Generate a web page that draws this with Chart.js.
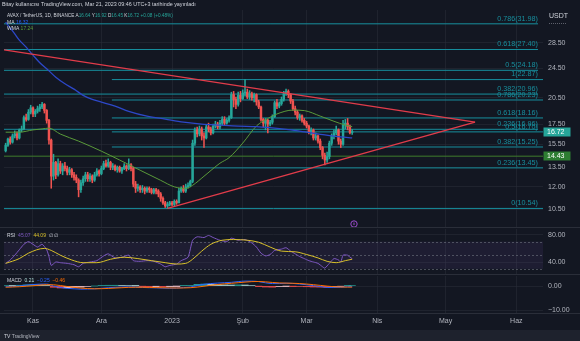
<!DOCTYPE html>
<html>
<head>
<meta charset="utf-8">
<title>AVAX / TetherUS 1D</title>
<script src="https://cdn.jsdelivr.net/npm/chart.js@4.4.1/dist/chart.umd.min.js"></script>
<style>
  html, body { margin: 0; padding: 0; background: #131722; }
  #page { position: relative; width: 580px; height: 341px; overflow: hidden; background: #131722; }
  canvas { position: absolute; left: 0; }
  #mainChart { top: 0; }
  #rsiChart { top: 228px; }
  #macdChart { top: 275px; }
</style>
</head>
<body>
<div id="page">
  <canvas id="mainChart" width="580" height="228"></canvas>
  <canvas id="rsiChart" width="580" height="47"></canvas>
  <canvas id="macdChart" width="580" height="66"></canvas>
</div>
<script>
// ---------------- data (days counted from 1 Nov 2022) ----------------
const firstDay = -12; // 20 Oct 2022

const candleOpen = [
  14.9, 15.4, 16.0, 15.7, 16.3, 16.5, 16.1, 16.9, 17.0, 18.2, 18.0, 18.8,
  19.3, 18.6, 18.9, 19.2, 19.4, 19.7, 19.0, 17.9, 15.9, 12.8, 13.9, 12.9, 13.8, 13.2,
  13.6, 13.4, 13.1, 13.3, 12.9, 12.7, 12.5, 11.8, 12.3, 12.6, 12.9, 12.6, 12.8, 12.5, 12.9, 13.2,
  13.0, 13.4, 13.8, 13.6, 13.9, 13.5, 13.6, 13.3, 13.5, 13.2, 13.4, 13.6, 13.4, 13.7,
  13.4, 12.2, 11.9, 12.0, 11.8, 11.9, 11.7, 11.9, 11.8, 11.6, 11.8, 11.7, 11.5, 11.2, 10.9, 10.7,
  10.8, 10.9, 10.8, 11.0, 10.9, 11.7, 11.9, 11.7, 12.0, 12.1,
  12.4, 15.6, 16.9, 16.5, 17.0, 16.3, 16.1, 17.2, 17.0, 16.6, 17.3, 17.5, 17.2, 17.6, 18.0, 17.6, 17.9,
  18.2, 20.9, 20.3, 19.7, 20.8, 20.4, 21.1, 21.2, 20.6, 21.0, 20.5, 20.9, 20.0, 19.4, 18.0, 17.6, 17.9,
  17.5, 17.7, 18.3, 19.9, 19.5, 19.8, 20.3, 21.0, 21.3, 20.9, 20.1, 19.2, 18.8, 18.2, 18.4, 17.9, 17.6,
  17.3, 16.7, 16.9, 16.1, 16.3, 15.8, 15.2, 14.5, 14.1, 14.4, 15.6, 16.3, 16.6, 16.9, 15.8, 15.5,
  17.4, 17.6, 17.2, 16.64
];
const candleHigh = [
  15.6, 16.1, 16.2, 16.5, 16.8, 16.7, 17.0, 17.3, 18.4, 18.6, 19.1, 19.6,
  19.4, 19.1, 19.5, 19.7, 19.95, 19.8, 19.1, 18.0, 16.0, 14.6, 14.0, 14.2, 14.0, 13.8,
  13.9, 13.6, 13.5, 13.4, 13.1, 12.9, 12.6, 12.5, 12.8, 13.1, 13.1, 13.0, 12.9, 13.1, 13.4, 13.3,
  13.6, 14.0, 14.1, 14.2, 14.0, 13.8, 13.7, 13.6, 13.6, 13.5, 13.8, 13.7, 14.2, 13.8,
  13.5, 12.4, 12.2, 12.1, 12.1, 12.0, 12.0, 12.0, 11.9, 11.9, 11.9, 11.8, 11.6, 11.3, 11.0, 10.95,
  11.0, 11.0, 11.1, 11.1, 11.9, 12.0, 12.1, 12.2, 12.3, 12.5,
  15.9, 17.1, 17.2, 17.3, 17.2, 16.6, 17.4, 17.6, 17.2, 17.5, 17.8, 17.7, 17.9, 18.3, 18.3, 18.1, 18.4,
  21.2, 21.3, 20.6, 21.2, 21.3, 21.5, 22.87, 21.6, 21.4, 21.2, 21.1, 21.0, 20.2, 19.5, 18.1, 18.1, 18.0,
  17.9, 18.5, 20.1, 20.3, 20.0, 20.6, 21.3, 21.6, 21.5, 21.0, 20.3, 19.5, 19.0, 18.6, 18.5, 18.1, 17.8,
  17.4, 17.1, 17.0, 16.6, 16.4, 16.0, 15.3, 14.7, 14.8, 15.8, 16.5, 16.9, 17.3, 17.0, 16.0, 17.9,
  18.0, 18.1, 17.4, 16.92
];
const candleLow = [
  14.8, 15.3, 15.5, 15.6, 16.1, 15.9, 16.0, 16.7, 16.9, 17.8, 17.9, 18.6,
  18.3, 18.3, 18.7, 18.9, 19.2, 18.7, 17.6, 15.5, 11.9, 12.5, 12.6, 12.8, 13.0, 12.9,
  13.2, 12.9, 12.9, 12.7, 12.5, 12.3, 11.3, 11.6, 12.1, 12.4, 12.4, 12.4, 12.3, 12.4, 12.8, 12.8,
  12.9, 13.3, 13.5, 13.5, 13.3, 13.3, 13.2, 13.1, 13.1, 13.0, 13.3, 13.2, 13.3, 13.2,
  12.0, 11.6, 11.7, 11.6, 11.6, 11.5, 11.6, 11.6, 11.5, 11.5, 11.5, 11.3, 11.0, 10.8, 10.6, 10.54,
  10.7, 10.7, 10.7, 10.8, 10.9, 11.6, 11.6, 11.6, 11.9, 12.0,
  12.3, 15.4, 16.2, 16.3, 15.9, 15.2, 16.0, 16.7, 16.4, 16.5, 17.1, 17.0, 17.0, 17.4, 17.4, 17.5, 17.7,
  18.1, 19.4, 19.2, 19.5, 20.0, 20.3, 20.7, 20.4, 20.3, 20.2, 20.0, 19.6, 19.2, 17.8, 17.2, 16.9, 16.6,
  17.3, 17.5, 18.2, 19.2, 19.3, 19.6, 20.1, 20.8, 20.5, 19.8, 19.0, 18.5, 18.0, 17.9, 17.7, 17.4, 17.1,
  16.5, 16.4, 15.9, 15.9, 15.6, 15.0, 14.2, 13.7, 13.9, 14.2, 15.4, 16.0, 16.4, 15.5, 15.2, 15.4,
  17.0, 16.9, 16.5, 16.45
];
const candleClose = [
  15.4, 16.0, 15.7, 16.3, 16.5, 16.1, 16.9, 17.0, 18.2, 18.0, 18.8, 19.3,
  18.6, 18.9, 19.2, 19.4, 19.7, 19.0, 17.9, 15.9, 12.8, 13.9, 12.9, 13.8, 13.2, 13.6,
  13.4, 13.1, 13.3, 12.9, 12.7, 12.5, 11.8, 12.3, 12.6, 12.9, 12.6, 12.8, 12.5, 12.9, 13.2, 13.0,
  13.4, 13.8, 13.6, 13.9, 13.5, 13.6, 13.3, 13.5, 13.2, 13.4, 13.6, 13.4, 13.7, 13.4,
  12.2, 11.9, 12.0, 11.8, 11.9, 11.7, 11.9, 11.8, 11.6, 11.8, 11.7, 11.5, 11.2, 10.9, 10.7, 10.8,
  10.9, 10.8, 11.0, 10.9, 11.7, 11.9, 11.7, 12.0, 12.1, 12.4,
  15.6, 16.9, 16.5, 17.0, 16.3, 16.1, 17.2, 17.0, 16.6, 17.3, 17.5, 17.2, 17.6, 18.0, 17.6, 17.9, 18.2,
  20.9, 20.3, 19.7, 20.8, 20.4, 21.1, 21.2, 20.6, 21.0, 20.5, 20.9, 20.0, 19.4, 18.0, 17.6, 17.9, 17.5,
  17.7, 18.3, 19.9, 19.5, 19.8, 20.3, 21.0, 21.3, 20.9, 20.1, 19.2, 18.8, 18.2, 18.4, 17.9, 17.6, 17.3,
  16.7, 16.9, 16.1, 16.3, 15.8, 15.2, 14.5, 14.1, 14.4, 15.6, 16.3, 16.6, 16.9, 15.8, 15.5, 17.4,
  17.6, 17.2, 16.64, 16.72
];

// moving averages
const maDays = [-12, -10, -8, -6, -3, 0, 3, 7, 10, 14, 18, 22, 26, 30, 36, 42, 50, 58, 66, 74, 82, 90, 98, 104, 112, 120, 128, 135, 140];
const maValues = [32.3, 31.2, 30.1, 29.0, 27.8, 26.5, 25.3, 24.1, 23.2, 22.3, 21.6, 20.8, 20.3, 19.98, 19.5, 18.9, 18.36, 18.03, 17.71, 17.5, 17.39, 17.29, 17.24, 17.13, 16.93, 16.67, 16.4, 16.2, 16.1];
const wmaDays = [-12, -6, 0, 4, 7, 12, 20, 30, 38, 47, 56, 62, 67, 70, 75, 82, 86, 92, 98, 103, 107, 114, 119, 126, 132, 137, 140];
const wmaValues = [16.67, 16.67, 16.9, 17.0, 17.08, 16.48, 15.8, 14.87, 14.1, 13.26, 12.48, 12.0, 11.89, 12.11, 12.79, 13.83, 14.3, 15.61, 17.3, 18.1, 18.6, 19.04, 18.98, 18.36, 17.8, 17.39, 17.24];

// fibonacci retracements
const fibALevels = ['0.236', '0.382', '0.5', '0.618', '0.786'];
const fibAPrices = [16.96, 20.96, 24.18, 27.40, 31.98];
const fibBLevels = ['0', '0.236', '0.382', '0.5', '0.618', '0.786', '1'];
const fibBPrices = [10.54, 13.45, 15.25, 16.70, 18.16, 20.23, 22.87];
const fibBStartDay = 34.6;
const fibAEndDay = 221.5;

// triangle trend lines [day, price]
const upperTrend = [[-12.7, 27.35], [193.9, 17.71]];
const lowerTrend = [[59, 10.54], [193.9, 17.71]];
const supportPrice = 14.43;
const lastPrice = 16.72;

// RSI
const rsiDays = [-12, -10, -8, -6, -4, -2, 0, 2, 4, 6, 7, 8, 10, 12, 15, 18, 20, 22, 25, 28, 31, 33, 36, 39, 42, 44, 47, 50, 53, 56, 58, 60, 63, 65, 68, 70, 72, 75, 77, 79, 82, 85, 87, 90, 93, 96, 98, 100, 102, 104, 106, 109, 111, 113, 115, 117, 119, 121, 123, 125, 127, 128, 130, 132, 134, 135, 136, 138, 139, 140];
const rsiValues = [38, 43, 50, 58, 66, 70, 66, 62, 66, 58, 48, 35, 40, 39, 38, 36, 33, 38, 40, 42, 49, 52, 46, 47, 50, 42, 41, 42, 41, 37, 33, 35, 37, 42, 47, 72, 77, 76, 79, 76, 72, 70, 75, 72, 73, 68, 62, 53, 49, 51, 57, 59, 61, 56, 52, 48, 45, 42, 40, 38, 33, 31, 38, 45, 43, 40, 50, 50, 47, 45.07];
const rsiMaDays = [-12, -6, -2, 5, 8, 12, 17, 22, 28, 34, 40, 46, 52, 58, 63, 67, 70, 74, 78, 83, 88, 94, 99, 104, 109, 115, 120, 125, 129, 133, 137, 140];
const rsiMaValues = [38, 45, 53, 60, 57, 50, 43, 39, 39, 44, 47, 45, 42, 39, 37, 38, 44, 56, 66, 72, 73, 72, 69, 62, 56, 55, 51, 46, 41, 39, 42, 44.09];

// MACD
const macdDays = [-12, -9, -6, -3, 0, 3, 6, 9, 12, 15, 18, 21, 24, 27, 30, 33, 36, 39, 42, 45, 48, 51, 54, 57, 60, 63, 66, 69, 72, 75, 78, 81, 84, 87, 90, 93, 96, 99, 102, 105, 108, 111, 114, 117, 120, 123, 126, 129, 132, 135, 138, 140];
const macdLine = [-0.3, -0.25, 0.0, 0.35, 0.6, 0.75, 0.8, 0.0, -0.6, -0.95, -1.15, -1.3, -1.25, -1.15, -0.95, -0.7, -0.55, -0.45, -0.35, -0.45, -0.6, -0.7, -0.75, -0.85, -0.9, -0.85, -0.65, -0.45, 0.2, 0.7, 1.0, 1.2, 1.35, 1.5, 1.8, 2.0, 2.0, 1.8, 1.3, 1.0, 1.0, 1.15, 1.05, 0.8, 0.5, 0.15, -0.2, -0.6, -0.6, -0.5, -0.3, -0.25];
const macdSignal = [-0.5, -0.4, -0.3, -0.1, 0.1, 0.35, 0.55, 0.5, 0.2, -0.2, -0.55, -0.85, -1.05, -1.15, -1.1, -1.0, -0.85, -0.7, -0.55, -0.5, -0.52, -0.58, -0.65, -0.72, -0.8, -0.83, -0.8, -0.7, -0.45, -0.1, 0.3, 0.6, 0.9, 1.1, 1.35, 1.6, 1.8, 1.85, 1.7, 1.45, 1.25, 1.18, 1.12, 1.0, 0.8, 0.55, 0.25, -0.05, -0.3, -0.42, -0.45, -0.46];
const macdHist = [0.2, 0.15, 0.3, 0.45, 0.5, 0.4, 0.25, -0.5, -0.8, -0.75, -0.6, -0.45, -0.2, 0.0, 0.15, 0.3, 0.3, 0.25, 0.2, 0.05, -0.08, -0.12, -0.1, -0.13, -0.1, -0.02, 0.15, 0.25, 0.65, 0.8, 0.7, 0.6, 0.45, 0.4, 0.45, 0.4, 0.2, -0.05, -0.4, -0.45, -0.25, -0.03, -0.07, -0.2, -0.3, -0.4, -0.45, -0.55, -0.3, -0.08, 0.15, 0.21];

// axis ticks
const priceTicks = [10.5, 12, 13.5, 15.5, 17.5, 20.5, 24.5, 28.5];
const rsiTicks = [40, 80];
const macdTicks = [-10, 0];
const monthTickDays = [0, 30, 61, 92, 120, 151, 181, 212];
const monthTickLabels = ['Kas', 'Ara', '2023', 'Şub', 'Mar', 'Nis', 'May', 'Haz'];

// ---------------- styling ----------------
const FONT = '"Liberation Sans", Arial, sans-serif';
const TEXT = '#d1d4dc';
const AXIS_TEXT = '#b2b5be';
const GRID = 'rgba(42,46,57,0.55)';
const SEPARATOR = '#2a2e39';
const UP = '#26a69a';
const DOWN = '#ef5350';
const FIB = '#178f9e';
const X_MIN = -12.72;
const X_MAX = 223.7;
const AXIS_WIDTH = 37;

Chart.defaults.font.family = FONT;
Chart.defaults.font.size = 7;
Chart.defaults.color = AXIS_TEXT;
Chart.defaults.animation = false;
Chart.defaults.plugins.legend.display = false;
Chart.defaults.plugins.tooltip.enabled = false;
Chart.defaults.elements.point.radius = 0;

const fmt = v => (v < 0 ? '\u2212' + Math.abs(v).toFixed(2) : v.toFixed(2));
const zip = (xs, ys) => xs.map((x, i) => ({ x: x, y: ys[i] }));

function timeAxis(showLabels) {
    return {
        type: 'linear',
        min: X_MIN,
        max: X_MAX,
        offset: false,
        grid: { color: GRID, drawTicks: false, offset: false },
        border: { display: false },
        ticks: {
            display: showLabels,
            padding: 4,
            maxRotation: 0,
            autoSkip: false,
            color: AXIS_TEXT,
            callback: (value, index) => monthTickLabels[index]
        },
        afterBuildTicks: s => { s.ticks = monthTickDays.map(v => ({ value: v })); },
        afterFit: s => { s.height = showLabels ? 17 : 0; s.paddingLeft = 0; s.paddingRight = 0; }
    };
}

function valueAxis(extra, tickValues) {
    return Object.assign({
        position: 'right',
        grid: { color: GRID, drawTicks: false },
        border: { display: false },
        ticks: { padding: 5, color: AXIS_TEXT, callback: v => fmt(v) },
        afterBuildTicks: s => { s.ticks = tickValues.map(v => ({ value: v })); },
        afterFit: s => { s.width = AXIS_WIDTH; s.paddingTop = 0; s.paddingBottom = 0; }
    }, extra);
}

function drawSegments(ctx, x, y, segs, size) {
    ctx.save();
    ctx.font = size + 'px ' + FONT;
    ctx.textBaseline = 'middle';
    ctx.textAlign = 'left';
    segs.forEach(([t, c]) => {
        ctx.fillStyle = c;
        ctx.fillText(t, x, y);
        x += ctx.measureText(t).width;
    });
    ctx.restore();
}

function separator(ctx, y) {
    ctx.save();
    ctx.strokeStyle = SEPARATOR;
    ctx.lineWidth = 1;
    ctx.beginPath();
    ctx.moveTo(0, y);
    ctx.lineTo(580, y);
    ctx.stroke();
    ctx.restore();
}

// ---------------- main price pane ----------------
const candleDays = candleClose.map((_, i) => firstDay + i);
const candleColors = candleClose.map((c, i) => (c >= candleOpen[i] ? UP : DOWN));

function hLine(startDay, endDay, price, color, width, order) {
    return {
        type: 'line',
        data: [{ x: startDay, y: price }, { x: endDay, y: price }],
        borderColor: color,
        borderWidth: width,
        pointRadius: 0,
        order: order
    };
}

const fibDatasets = [
    ...fibAPrices.map(p => hLine(X_MIN, fibAEndDay, p, FIB, 1, 30)),
    ...fibBPrices.map((p, i) => hLine(i === 0 ? X_MIN : fibBStartDay, X_MAX, p, FIB, 1, 30))
];

const mainOverlay = {
    id: 'mainOverlay',
    afterDraw(chart) {
        const { ctx, chartArea, scales: { x, y } } = chart;
        ctx.save();

        // fib labels
        ctx.font = '7.2px ' + FONT;
        ctx.fillStyle = FIB;
        ctx.textAlign = 'right';
        ctx.textBaseline = 'bottom';
        const lx = x.getPixelForValue(fibAEndDay);
        fibAPrices.forEach((p, i) => ctx.fillText(fibALevels[i] + '(' + p.toFixed(2) + ')', lx, y.getPixelForValue(p) - 1.5));
        fibBPrices.forEach((p, i) => ctx.fillText(fibBLevels[i] + '(' + p.toFixed(2) + ')', lx, y.getPixelForValue(p) - 1.5));

        // price axis boxes
        [[lastPrice, UP], [supportPrice, '#2e7d32']].forEach(([p, bg]) => {
            const py = Math.round(y.getPixelForValue(p));
            ctx.fillStyle = bg;
            ctx.fillRect(chartArea.right + 0.5, py - 4.5, 27, 9);
            ctx.fillStyle = '#ffffff';
            ctx.font = '7px ' + FONT;
            ctx.textAlign = 'left';
            ctx.textBaseline = 'middle';
            ctx.fillText(p.toFixed(2), chartArea.right + 4, py + 0.5);
        });

        // currency label
        ctx.fillStyle = TEXT;
        ctx.font = '7px ' + FONT;
        ctx.textAlign = 'left';
        ctx.textBaseline = 'middle';
        ctx.fillText('USDT', 549, 16);
        ctx.strokeStyle = '#5d606b';
        ctx.setLineDash([1, 1]);
        ctx.beginPath();
        ctx.moveTo(549, 23.5);
        ctx.lineTo(566, 23.5);
        ctx.stroke();
        ctx.setLineDash([]);

        // idea marker
        const mx = x.getPixelForValue(140.8);
        const my = chartArea.bottom - 4;
        ctx.strokeStyle = '#9c4dcc';
        ctx.lineWidth = 1;
        ctx.beginPath();
        ctx.arc(mx, my, 3.2, 0, Math.PI * 2);
        ctx.stroke();
        ctx.fillStyle = '#9c4dcc';
        ctx.fillRect(mx - 0.5, my - 1.5, 1, 2.5);
        ctx.restore();

        // header
        drawSegments(ctx, 2, 5, [['Bitay kullanıcısı TradingView.com, Mar 21, 2023 09:46 UTC+3 tarihinde yayınladı', TEXT]], 5.4);
        drawSegments(ctx, 7, 15.5, [
            ['AVAX / TetherUS, 1D, BINANCE ', TEXT],
            ['A', TEXT], ['16.64 ', UP], ['Y', TEXT], ['16.92 ', UP],
            ['D', TEXT], ['16.45 ', UP], ['K', TEXT], ['16.72 ', UP], ['+0.08 (+0.48%)', UP]
        ], 4.7);
        drawSegments(ctx, 7, 22.3, [['MA ', TEXT], ['16.32', '#2962ff']], 5);
        drawSegments(ctx, 7, 29, [['WMA ', TEXT], ['17.24', '#5c9e3c']], 5);

        separator(ctx, chartArea.bottom - 0.5);
    }
};

new Chart(document.getElementById('mainChart'), {
    type: 'bar',
    data: {
        datasets: [
            ...fibDatasets,
            hLine(X_MIN, X_MAX, supportPrice, '#3f7d2c', 1, 25),
            {
                type: 'bar',
                data: candleDays.map((d, i) => ({ x: d, y: [candleLow[i], candleHigh[i]] })),
                backgroundColor: candleColors,
                barThickness: 0.9,
                grouped: false,
                order: 12
            },
            {
                type: 'bar',
                data: candleDays.map((d, i) => ({ x: d, y: [candleOpen[i], candleClose[i]] })),
                backgroundColor: candleColors,
                barThickness: 1.8,
                minBarLength: 1,
                grouped: false,
                order: 11
            },
            {
                type: 'line',
                data: zip(maDays, maValues),
                borderColor: '#2d48c8',
                borderWidth: 1.3,
                cubicInterpolationMode: 'monotone',
                order: 5
            },
            {
                type: 'line',
                data: zip(wmaDays, wmaValues),
                borderColor: '#5a9a3a',
                borderWidth: 1,
                cubicInterpolationMode: 'monotone',
                order: 5
            },
            {
                type: 'line',
                data: upperTrend.map(([d, p]) => ({ x: d, y: p })),
                borderColor: '#e23c4a',
                borderWidth: 1.3,
                order: 1
            },
            {
                type: 'line',
                data: lowerTrend.map(([d, p]) => ({ x: d, y: p })),
                borderColor: '#e23c4a',
                borderWidth: 1.3,
                order: 1
            }
        ]
    },
    options: {
        responsive: false,
        events: [],
        layout: { padding: { left: 4, top: 10, right: 0, bottom: 0 } },
        scales: {
            x: timeAxis(false),
            y: valueAxis({ type: 'logarithmic', min: 9.37, max: 34.75, bounds: 'data' }, priceTicks)
        }
    },
    plugins: [mainOverlay]
});

// ---------------- RSI pane ----------------
const rsiOverlay = {
    id: 'rsiOverlay',
    beforeDatasetsDraw(chart) {
        const { ctx, chartArea, scales: { y } } = chart;
        ctx.save();
        ctx.fillStyle = 'rgba(126,87,194,0.1)';
        ctx.fillRect(chartArea.left, y.getPixelForValue(70), chartArea.right - chartArea.left, y.getPixelForValue(30) - y.getPixelForValue(70));
        ctx.strokeStyle = 'rgba(120,123,134,0.55)';
        ctx.lineWidth = 1;
        ctx.setLineDash([2, 2]);
        [70, 50, 30].forEach(v => {
            const py = Math.round(y.getPixelForValue(v)) + 0.5;
            ctx.beginPath();
            ctx.moveTo(chartArea.left, py);
            ctx.lineTo(chartArea.right, py);
            ctx.stroke();
        });
        ctx.restore();
    },
    afterDraw(chart) {
        drawSegments(chart.ctx, 7, 8, [['RSI  ', TEXT], ['45.07  ', '#7e57c2'], ['44.09  ', '#d9c12a'], ['\u2205 \u2205', TEXT]], 5);
        separator(chart.ctx, chart.chartArea.bottom - 0.5);
    }
};

new Chart(document.getElementById('rsiChart'), {
    type: 'line',
    data: {
        datasets: [
            { data: zip(rsiDays, rsiValues), borderColor: '#7e57c2', borderWidth: 1, tension: 0.2, order: 2 },
            { data: zip(rsiMaDays, rsiMaValues), borderColor: '#d9c12a', borderWidth: 1, cubicInterpolationMode: 'monotone', order: 1 }
        ]
    },
    options: {
        responsive: false,
        events: [],
        layout: { padding: { left: 4, top: 1, right: 0, bottom: 0 } },
        scales: {
            x: timeAxis(false),
            y: valueAxis({ type: 'linear', min: 20.9, max: 88.5 }, rsiTicks)
        }
    },
    plugins: [rsiOverlay]
});

// ---------------- MACD pane ----------------
const macdOverlay = {
    id: 'macdOverlay',
    afterDraw(chart) {
        const { ctx, chartArea } = chart;
        drawSegments(ctx, 7, 6, [['MACD  ', TEXT], ['0.21  ', '#b2dfdb'], ['\u22120.25  ', '#2962ff'], ['\u22120.46', '#ff6d00']], 5);
        separator(ctx, chartArea.bottom + 0.5);
        ctx.save();
        ctx.fillStyle = '#1e222d';
        ctx.fillRect(0, 55, 580, 11);
        ctx.restore();
        drawSegments(ctx, 4, 61.5, [['TV ', TEXT], ['TradingView', '#b2b5be']], 5);
    }
};

new Chart(document.getElementById('macdChart'), {
    type: 'bar',
    data: {
        datasets: [
            {
                type: 'bar',
                data: zip(macdDays, macdHist),
                backgroundColor: ctx => {
                    const i = ctx.dataIndex;
                    const v = macdHist[i];
                    const prev = i > 0 ? macdHist[i - 1] : v;
                    if (v >= 0) return v >= prev ? '#26a69a' : '#b2dfdb';
                    return v < prev ? '#ff5252' : '#ffcdd2';
                },
                barThickness: 6.5,
                order: 3
            },
            { type: 'line', data: zip(macdDays, macdLine), borderColor: '#2962ff', borderWidth: 1, cubicInterpolationMode: 'monotone', order: 2 },
            { type: 'line', data: zip(macdDays, macdSignal), borderColor: '#ff6d00', borderWidth: 1, cubicInterpolationMode: 'monotone', order: 1 }
        ]
    },
    options: {
        responsive: false,
        events: [],
        layout: { padding: { left: 4, top: 1, right: 0, bottom: 11 } },
        scales: {
            x: timeAxis(true),
            y: valueAxis({ type: 'linear', min: -11.07, max: 4.1 }, macdTicks)
        }
    },
    plugins: [macdOverlay]
});
</script>
</body>
</html>
